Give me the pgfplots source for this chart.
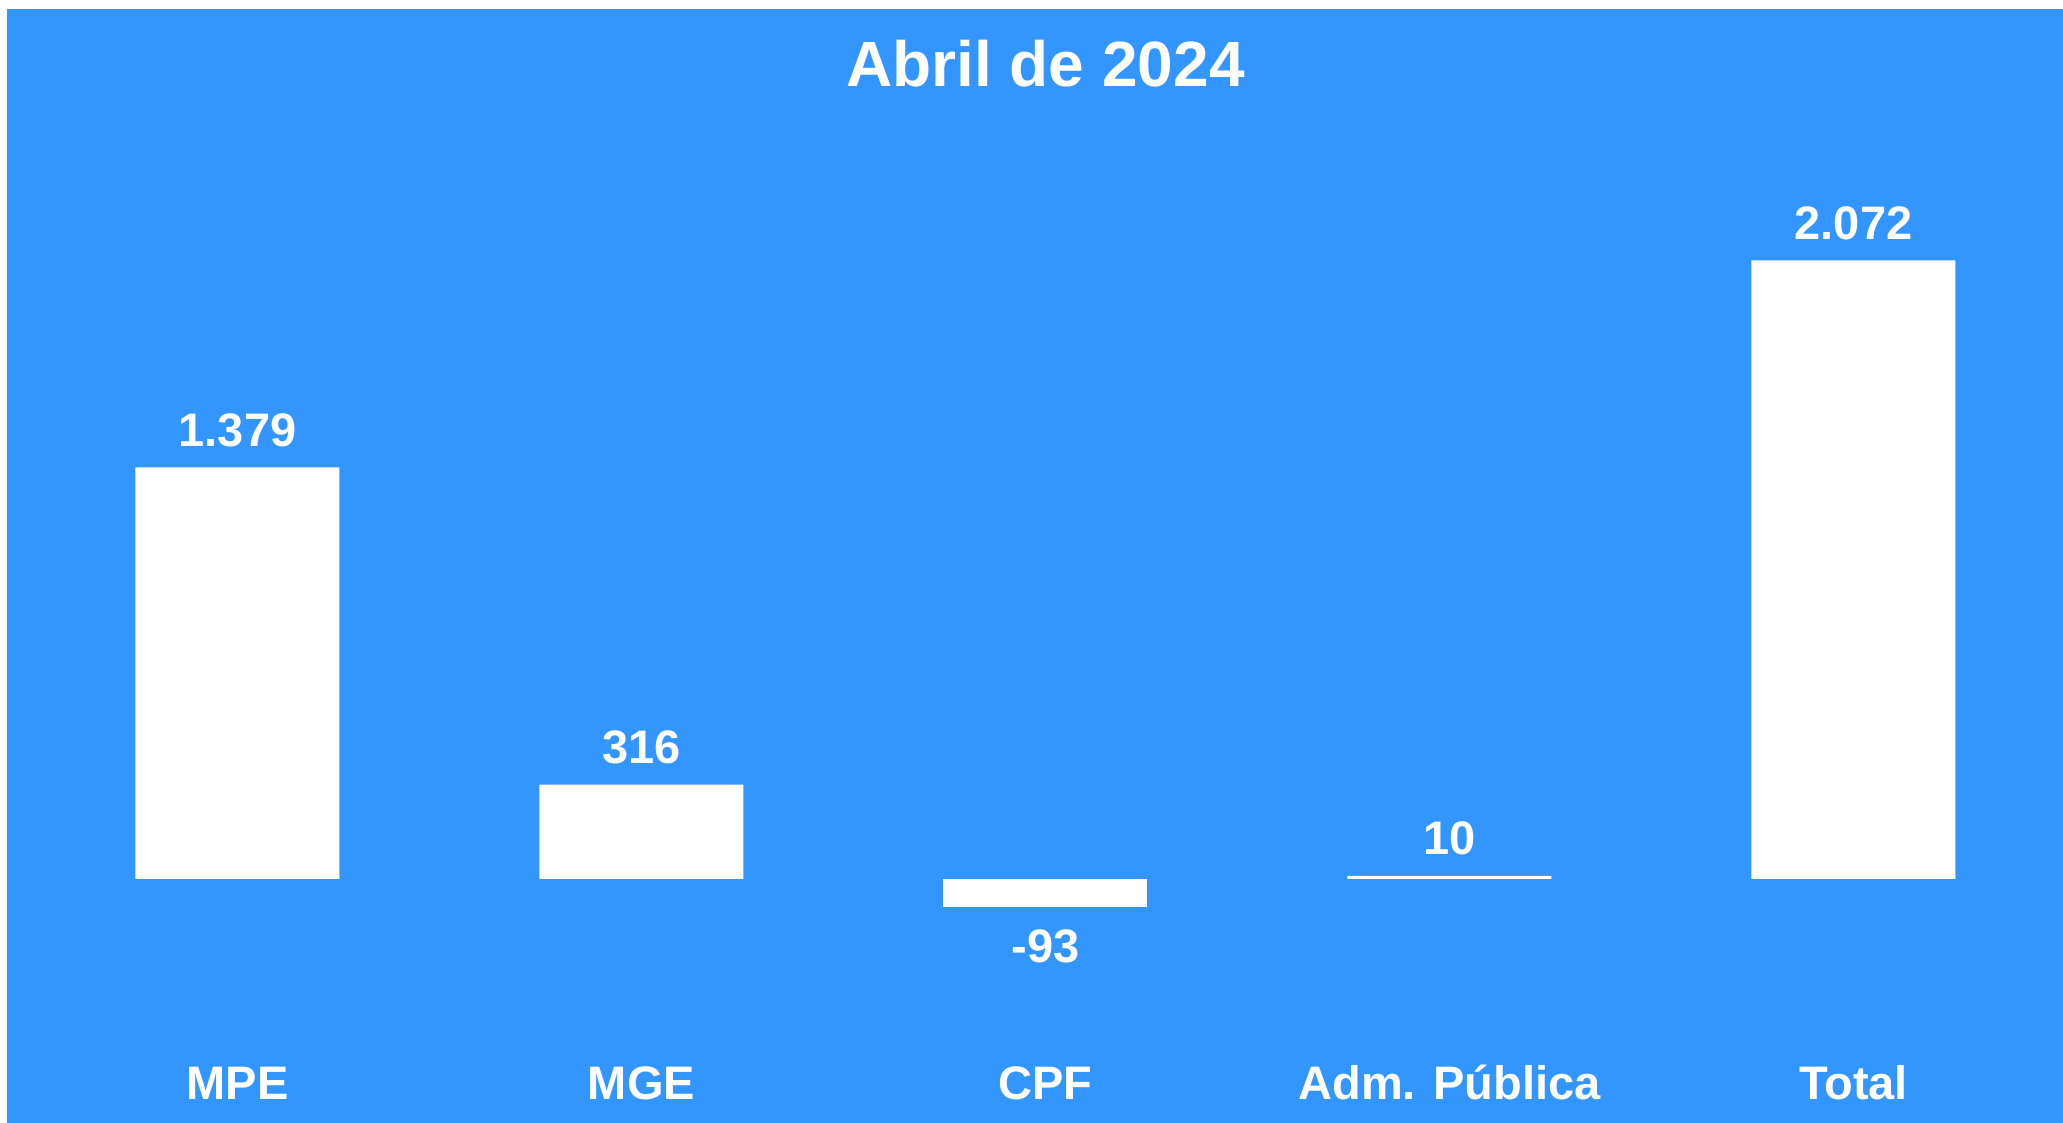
\documentclass[border=0pt]{standalone}
\usepackage{pgfplots}
\pgfplotsset{compat=1.18}
\usepackage{fontspec}
\setmainfont{Liberation Sans}
\definecolor{bgblue}{RGB}{51,150,255}
\begin{document}
\begin{tikzpicture}[x=1pt,y=1pt]
\fill[white] (0,0) rectangle (1031.5,561.5);
\fill[bgblue] (3.5,0) rectangle (1031.5,557);
\node[anchor=base, text=white, font=\fontsize{32}{38}\selectfont\bfseries, inner sep=0pt] at (522.75,518.15) {Abril de 2024};
\begin{axis}[
  at={(17.75pt,32.5pt)}, anchor=south west,
  scale only axis, width=1010pt, height=447.75pt,
  xmin=-0.5, xmax=4.5, ymin=-600, ymax=2400,
  enlargelimits=false, clip=false,
  axis line style={draw=none},
  major tick length=0pt,
  ytick=\empty,
  xtick={0,1,2,3,4},
  xticklabels={MPE,MGE,CPF,Adm. Pública,Total},
  xticklabel style={anchor=base, inner sep=0pt, yshift=-21pt, text=white, font=\fontsize{23.5}{28}\selectfont\bfseries},
  ybar, bar width=102pt, bar shift=0pt,
  point meta=explicit symbolic,
  nodes near coords,
]
\addplot[fill=white, draw=none,
  every node near coord/.append style={anchor=base, inner sep=0pt, yshift=10.5pt, text=white, font=\fontsize{23.5}{28}\selectfont\bfseries}]
  coordinates {(0,1379) [1.379] (1,316) [316] (3,10) [10] (4,2072) [2.072]};
\addplot[fill=white, draw=none,
  every node near coord/.append style={anchor=base, inner sep=0pt, yshift=-28pt, text=white, font=\fontsize{23.5}{28}\selectfont\bfseries}]
  coordinates {(2,-93) [-93]};
\end{axis}
\end{tikzpicture}
\end{document}
